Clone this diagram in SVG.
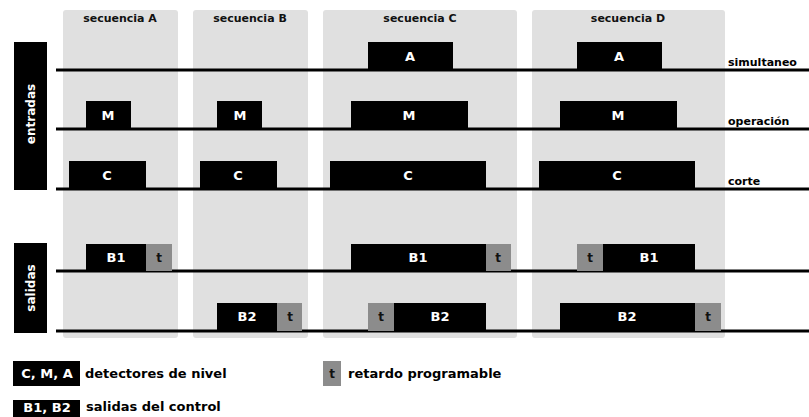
<svg xmlns="http://www.w3.org/2000/svg" width="809" height="417" viewBox="0 0 809 417">
<style>
text{font-family:"DejaVu Sans","Liberation Sans",Arial,sans-serif;font-weight:bold}
.col{fill:#e0e0e0}
.hd{font-size:11px;fill:#111;text-anchor:middle}
.blk{fill:#000}
.t{fill:#8c8c8c}
.wl{fill:#fff;font-size:13px;text-anchor:middle}
.tl{fill:#111;font-size:12px;text-anchor:middle}
.rl{fill:#000;font-size:11px}
.ln{stroke:#000;stroke-width:3;fill:none}
.lg{fill:#000;font-size:13px}
</style>
<rect width="809" height="417" fill="#fff"/>
<g id="columns">
<rect class="col" x="63" y="10" width="115" height="328" rx="3"/>
<rect class="col" x="193" y="10" width="115" height="328" rx="3"/>
<rect class="col" x="323" y="10" width="194" height="328" rx="3"/>
<rect class="col" x="532" y="10" width="193" height="328" rx="3"/>
<text class="hd" x="120" y="22">secuencia A</text>
<text class="hd" x="250" y="22">secuencia B</text>
<text class="hd" x="420" y="22">secuencia C</text>
<text class="hd" x="628" y="22">secuencia D</text>
</g>
<g id="entradas">
<rect class="blk" x="14" y="42" width="33" height="148"/>
<text transform="translate(35,114) rotate(-90)" fill="#fff" font-size="12" text-anchor="middle">entradas</text>
</g>
<g id="salidas">
<rect class="blk" x="14" y="243" width="33" height="90"/>
<text transform="translate(35,288) rotate(-90)" fill="#fff" font-size="12" text-anchor="middle">salidas</text>
</g>
<g id="connectors">
<line class="ln" x1="56" y1="70" x2="809" y2="70"/>
<line class="ln" x1="56" y1="129" x2="809" y2="129"/>
<line class="ln" x1="56" y1="189" x2="809" y2="189"/>
<line class="ln" x1="56" y1="271" x2="809" y2="271"/>
<line class="ln" x1="56" y1="331" x2="809" y2="331"/>
</g>
<g id="simultaneo">
<rect class="blk" x="368" y="42" width="85" height="28"/><text class="wl" x="410" y="61">A</text>
<rect class="blk" x="577" y="42" width="85" height="28"/><text class="wl" x="619" y="61">A</text>
<text class="rl" x="728" y="66">simultaneo</text>
</g>
<g id="operacion">
<rect class="blk" x="86" y="101" width="45" height="28"/><text class="wl" x="108" y="120">M</text>
<rect class="blk" x="217" y="101" width="45" height="28"/><text class="wl" x="240" y="120">M</text>
<rect class="blk" x="351" y="101" width="117" height="28"/><text class="wl" x="409" y="120">M</text>
<rect class="blk" x="560" y="101" width="117" height="28"/><text class="wl" x="618" y="120">M</text>
<text class="rl" x="728" y="125">operación</text>
</g>
<g id="corte">
<rect class="blk" x="69" y="161" width="77" height="28"/><text class="wl" x="107" y="180">C</text>
<rect class="blk" x="200" y="161" width="77" height="28"/><text class="wl" x="238" y="180">C</text>
<rect class="blk" x="330" y="161" width="156" height="28"/><text class="wl" x="408" y="180">C</text>
<rect class="blk" x="539" y="161" width="156" height="28"/><text class="wl" x="617" y="180">C</text>
<text class="rl" x="728" y="185">corte</text>
</g>
<g id="b1">
<rect class="blk" x="86" y="244" width="60" height="27"/><text class="wl" x="116" y="262">B1</text>
<rect class="t" x="146" y="244" width="26" height="27"/><text class="tl" x="159" y="262">t</text>
<rect class="blk" x="351" y="244" width="135" height="27"/><text class="wl" x="418" y="262">B1</text>
<rect class="t" x="486" y="244" width="25" height="27"/><text class="tl" x="498" y="262">t</text>
<rect class="t" x="577" y="244" width="26" height="27"/><text class="tl" x="590" y="262">t</text>
<rect class="blk" x="603" y="244" width="92" height="27"/><text class="wl" x="649" y="262">B1</text>
</g>
<g id="b2">
<rect class="blk" x="217" y="303" width="60" height="28"/><text class="wl" x="247" y="321">B2</text>
<rect class="t" x="277" y="303" width="25" height="28"/><text class="tl" x="290" y="321">t</text>
<rect class="t" x="368" y="303" width="26" height="28"/><text class="tl" x="381" y="321">t</text>
<rect class="blk" x="394" y="303" width="92" height="28"/><text class="wl" x="440" y="321">B2</text>
<rect class="blk" x="560" y="303" width="135" height="28"/><text class="wl" x="627" y="321">B2</text>
<rect class="t" x="695" y="303" width="26" height="28"/><text class="tl" x="708" y="321">t</text>
</g>
<g id="legend">
<rect class="blk" x="13" y="361" width="67" height="25"/><text class="wl" x="47" y="378">C, M, A</text>
<text class="lg" x="85" y="378">detectores de nivel</text>
<rect class="blk" x="13" y="400" width="67" height="17"/><text class="wl" x="47" y="412">B1, B2</text>
<text class="lg" x="86" y="411">salidas del control</text>
<rect class="t" x="323" y="361" width="18" height="25"/><text class="tl" x="332" y="378">t</text>
<text class="lg" x="348" y="378">retardo programable</text>
</g>
</svg>
